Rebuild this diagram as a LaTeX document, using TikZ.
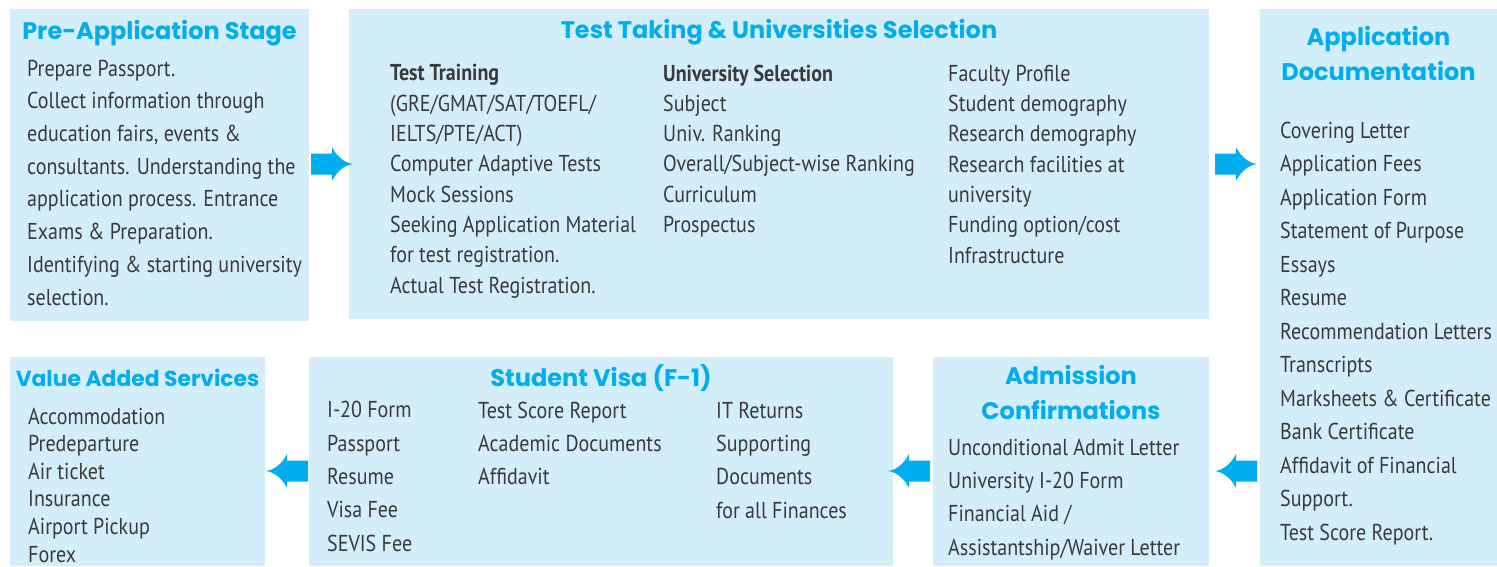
\documentclass[tikz,border=0pt]{standalone}
\usepackage{fontspec}
\setmainfont{PT Sans}[FakeStretch=0.87]
\newfontfamily\headfont{Poppins}
\usetikzlibrary{calc}
\definecolor{boxblue}{HTML}{D3EDF9}
\definecolor{arrowblue}{HTML}{00AEEF}
\definecolor{txtgray}{HTML}{3A3A3A}
\tikzstyle{box}=[rectangle, fill=boxblue, inner sep=0pt, anchor=north west]
\tikzstyle{head}=[align=center, inner sep=0pt, anchor=base, text=arrowblue, font=\headfont\bfseries\fontsize{24}{35}\selectfont]
\tikzstyle{list}=[align=left, inner sep=0pt, anchor=base west, text=txtgray]
\newcommand{\blockarrow}[2]
{
  \begin{scope}[shift={#1}, xscale=#2]
    \fill[arrowblue] (-42,-10.5) -- (-21,-10.5) -- (-21,-17) .. controls (-16,-7) and (-8,-1) .. (0,0)
      .. controls (-8,1) and (-16,7) .. (-21,17) -- (-21,10.5) -- (-42,10.5) -- cycle;
  \end{scope}
}

\begin{document}
\begin{tikzpicture}[x=1pt, y=-1pt]
	\useasboundingbox (0,0) rectangle (1497,566);

	% boxes
	\node[box, minimum width=299pt, minimum height=312pt](pre) at (10,9){};
	\node[box, minimum width=860pt, minimum height=310pt](test) at (349,9){};
	\node[box, minimum width=237pt, minimum height=557pt](doc) at (1260,9){};
	\node[box, minimum width=255pt, minimum height=209pt](value) at (10,357){};
	\node[box, minimum width=584pt, minimum height=209pt](visa) at (309,357){};
	\node[box, minimum width=276pt, minimum height=209pt](admit) at (933,357){};

	% titles (base = last line)
	\node[head](preTitle) at (159.5,39) {Pre-Application Stage};
	\node[head](testTitle) at (779,38) {Test Taking \& Universities Selection};
	\node[head](docTitle) at (1378.5,80) {Application\\Documentation};
	\node[head, font=\headfont\bfseries\fontsize{21.8}{35}\selectfont](valueTitle) at (137.5,386) {Value Added Services};
	\node[head](visaTitle) at (601,386) {Student Visa (F-1)};
	\node[head](admitTitle) at (1071,419) {Admission\\Confirmations};

	% lists (base = last line)
	\node[list, font=\fontsize{23}{32.7}\selectfont](preList) at (27,305) {Prepare Passport.\\Collect information through\\education fairs, events \&\\consultants. Understanding the\\application process. Entrance\\Exams \& Preparation.\\Identifying \& starting university\\selection.};
	\node[list, font=\fontsize{23}{30.3}\selectfont](testList1) at (390,293) {\textbf{Test Training}\\(GRE/GMAT/SAT/TOEFL/\\IELTS/PTE/ACT)\\Computer Adaptive Tests\\Mock Sessions\\Seeking Application Material\\for test registration.\\Actual Test Registration.};
	\node[list, font=\fontsize{23}{30.3}\selectfont](testList2) at (663,232.5) {\textbf{University Selection}\\Subject\\Univ. Ranking\\Overall/Subject-wise Ranking\\Curriculum\\Prospectus};
	\node[list, font=\fontsize{23}{30.3}\selectfont](testList3) at (948,263) {Faculty Profile\\Student demography\\Research demography\\Research facilities at\\university\\Funding option/cost\\Infrastructure};
	\node[list, font=\fontsize{23}{33.5}\selectfont](docList) at (1280,540) {Covering Letter\\Application Fees\\Application Form\\Statement of Purpose\\Essays\\Resume\\Recommendation Letters\\Transcripts\\Marksheets \& Certificate\\Bank Certificate\\Affidavit of Financial\\Support.\\Test Score Report.};
	\node[list, font=\fontsize{23}{27.6}\selectfont](valueList) at (28,562) {Accommodation\\Predeparture\\Air ticket\\Insurance\\Airport Pickup\\Forex};
	\node[list, font=\fontsize{23}{33.3}\selectfont](visaList1) at (327,551) {I-20 Form\\Passport\\Resume\\Visa Fee\\SEVIS Fee};
	\node[list, font=\fontsize{23}{33.3}\selectfont](visaList2) at (478,484.6) {Test Score Report\\Academic Documents\\Affidavit};
	\node[list, font=\fontsize{23}{33.3}\selectfont](visaList3) at (716,518) {IT Returns\\Supporting\\Documents\\for all Finances};
	\node[list, font=\fontsize{23}{33.3}\selectfont](admitList) at (948,555) {Unconditional Admit Letter\\University I-20 Form\\Financial Aid /\\Assistantship/Waiver Letter};

	% arrows
	\blockarrow{(353,164)}{1}
	\blockarrow{(1257,164)}{1}
	\blockarrow{(1215,471)}{-1}
	\blockarrow{(888,471)}{-1}
	\blockarrow{(266,471)}{-1}

\end{tikzpicture}
\end{document}
